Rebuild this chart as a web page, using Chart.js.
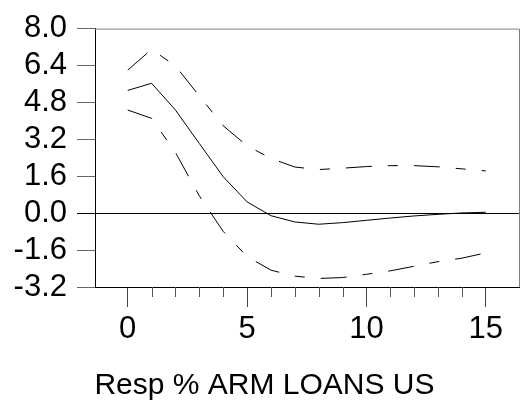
<!DOCTYPE html>
<html><head><meta charset="utf-8">
<script src="https://cdn.jsdelivr.net/npm/chart.js@4"></script>
<style>html,body{margin:0;padding:0;background:#fff}</style>
</head><body>
<canvas id="c" width="529" height="409"></canvas>
<script>
const periods = [0,1,2,3,4,5,6,7,8,9,10,11,12,13,14,15];
const response = [5.32,5.63,4.47,3.02,1.58,0.49,-0.11,-0.38,-0.48,-0.41,-0.31,-0.21,-0.12,-0.05,0.01,0.04];
const upperBand = [6.20,7.10,6.38,5.08,3.79,2.92,2.37,2.00,1.89,1.95,2.02,2.06,2.06,2.01,1.92,1.83];
const lowerBand = [4.47,4.11,2.63,0.75,-0.79,-1.88,-2.47,-2.73,-2.83,-2.79,-2.65,-2.50,-2.30,-2.10,-1.95,-1.72];
const yTickValues = [-3.2,-1.6,0,1.6,3.2,4.8,6.4,8.0];
const xLabelValues = [0,5,10,15];
const titleText = 'Resp % ARM LOANS US';

const FONT = "'Liberation Sans', Arial, sans-serif";
const toXY = arr => periods.map((p,i) => ({x:p, y:arr[i]}));
const bandDash = [26,16,10,16];

const extras = {
  id: 'extras',
  afterDraw(chart) {
    const {ctx, chartArea: a, scales: {x}} = chart;
    ctx.save();
    // top and right frame
    ctx.strokeStyle = '#808080';
    ctx.lineWidth = 1;
    ctx.beginPath();
    ctx.moveTo(a.left, a.top + 0.5);
    ctx.lineTo(a.right + 0.5, a.top + 0.5);
    ctx.lineTo(a.right + 0.5, a.bottom);
    ctx.stroke();
    // minor x ticks
    ctx.strokeStyle = '#555';
    ctx.beginPath();
    periods.forEach(p => {
      if (xLabelValues.includes(p)) return;
      const px = Math.round(x.getPixelForValue(p)) + 0.5;
      ctx.moveTo(px, a.bottom);
      ctx.lineTo(px, a.bottom + 10);
    });
    ctx.stroke();
    ctx.restore();
  }
};

new Chart(document.getElementById('c'), {
  type: 'line',
  data: {
    datasets: [
      {data: toXY(upperBand), borderColor:'#000', borderWidth:1, borderDash:bandDash, pointRadius:0, tension:0, fill:false},
      {data: toXY(response), borderColor:'#000', borderWidth:1, pointRadius:0, tension:0, fill:false},
      {data: toXY(lowerBand), borderColor:'#000', borderWidth:1, borderDash:bandDash, pointRadius:0, tension:0, fill:false}
    ]
  },
  options: {
    responsive: false,
    devicePixelRatio: 1,
    animation: false,
    layout: {padding: {top: 25, left: 10, right: 10, bottom: 5}},
    plugins: {
      legend: {display: false},
      tooltip: {enabled: false},
      title: {
        display: true, position: 'bottom', text: titleText, color: '#000',
        font: {family: FONT, size: 30, weight: 'normal'}, padding: 0
      }
    },
    scales: {
      x: {
        type: 'linear', min: -1.37, max: 16.39,
        afterBuildTicks: s => { s.ticks = periods.map(v => ({value: v})); },
        afterFit: s => { s.height = 81; },
        grid: {
          drawOnChartArea: false, drawTicks: true, tickLength: 20,
          tickColor: c => xLabelValues.includes(c.tick && c.tick.value) ? '#444' : 'rgba(0,0,0,0)'
        },
        border: {display: true, color: '#000', width: 1},
        ticks: {
          autoSkip: false, maxRotation: 0, padding: 4, color: '#000',
          font: {family: FONT, size: 31},
          callback: v => xLabelValues.includes(v) ? String(v) : ''
        }
      },
      y: {
        type: 'linear', min: -3.2, max: 8.0,
        afterBuildTicks: s => { s.ticks = yTickValues.map(v => ({value: v})); },
        afterFit: s => { s.width = 85; },
        grid: {
          drawOnChartArea: true, drawTicks: true, tickLength: 18,
          color: c => (c.tick && Math.abs(c.tick.value) < 1e-9) ? '#000' : 'rgba(0,0,0,0)',
          tickColor: c => (c.tick && Math.abs(c.tick.value) < 1e-9) ? '#000' : '#666'
        },
        border: {display: true, color: '#000', width: 1},
        ticks: {
          autoSkip: false, padding: 10, color: '#000',
          font: {family: FONT, size: 31},
          callback: v => Number(v).toFixed(1)
        }
      }
    }
  },
  plugins: [extras]
});
</script>
</body></html>
